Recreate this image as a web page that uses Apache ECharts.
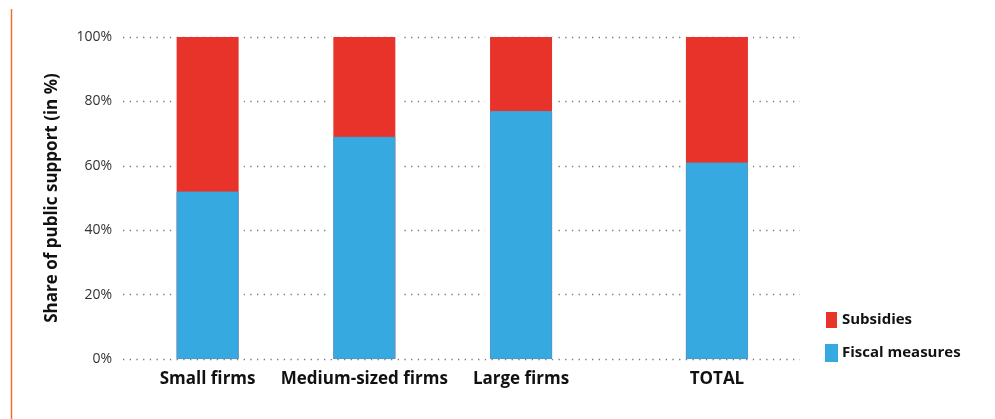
<!DOCTYPE html>
<html>
<head>
<meta charset="utf-8">
<script src="https://cdn.jsdelivr.net/npm/echarts@6/dist/echarts.min.js"></script>
<style>
html,body{margin:0;padding:0;background:#fff;}
#chart{width:995px;height:419px;}
</style>
</head>
<body>
<div id="chart"></div>
<script>
// ---- data ----
var categories = ['Small firms', 'Medium-sized firms', 'Large firms', 'TOTAL'];
var fiscalMeasures = [52, 69, 77, 61];
var subsidies = [48, 31, 23, 39];
var yTicks = [0, 20, 40, 60, 80, 100];

// ---- layout (slot positions along the x axis; TOTAL is set apart) ----
var slots = [1, 2, 3, 4.25];

var RED = '#E8332A', BLUE = '#36A9E1';
var FONT = '"Open Sans", Roboto, sans-serif';

function pairs(vals) { return vals.map(function (v, i) { return [slots[i], v]; }); }
// subsidies sit on top of fiscal measures: the red bar spans 0..(fiscal+subsidies), blue drawn over it
var totals = fiscalMeasures.map(function (v, i) { return v + subsidies[i]; });

var chart = echarts.init(document.getElementById('chart'));
chart.setOption({
  animation: false,
  backgroundColor: '#fff',
  textStyle: { fontFamily: FONT },
  graphic: [{
    type: 'line', silent: true,
    shape: { x1: 11.5, y1: 9, x2: 11.5, y2: 419 },
    style: { stroke: '#F07030', lineWidth: 1.5 }
  }],
  grid: { left: 123, right: 195, top: 37, bottom: 60 },
  legend: {
    orient: 'vertical', left: 820, top: 307,
    itemWidth: 11, itemHeight: 16, itemGap: 16,
    icon: 'rect',
    data: ['Subsidies', 'Fiscal measures'],
    textStyle: { fontFamily: FONT, fontSize: 15, fontWeight: 'bold', color: '#111' }
  },
  xAxis: [{
    type: 'value', min: 0.46, max: 4.78,
    axisLine: { show: false }, axisTick: { show: false }, splitLine: { show: false },
    axisLabel: {
      customValues: slots,
      formatter: function (v) {
        for (var i = 0; i < slots.length; i++) if (Math.abs(slots[i] - v) < 1e-6) return categories[i];
        return '';
      },
      fontFamily: FONT, fontSize: 17, fontWeight: 'bold', color: '#111', margin: 12
    }
  }, {
    type: 'value', min: 0.46, max: 4.78, show: false
  }],
  yAxis: {
    type: 'value', min: 0, max: 100, interval: 20,
    name: 'Share of public support (in %)',
    nameLocation: 'middle', nameGap: 62,
    nameTextStyle: { fontFamily: FONT, fontSize: 17, fontWeight: 'bold', color: '#111' },
    axisLine: { show: false }, axisTick: { show: false },
    axisLabel: {
      fontFamily: FONT, fontSize: 14, color: '#333', margin: 11,
      formatter: function (v) { return yTicks.indexOf(v) >= 0 ? v + '%' : ''; }
    },
    splitLine: { show: true, lineStyle: { color: '#777', width: 1.3, type: [1.3, 5.4] } }
  },
  series: [{
    name: 'halo', type: 'bar', xAxisIndex: 1, silent: true,
    barWidth: 72, data: pairs(totals),
    itemStyle: { color: '#fff' }, z: 1, legendHoverLink: false
  }, {
    name: 'Subsidies', type: 'bar', barWidth: 62, barGap: '-100%',
    data: pairs(totals), itemStyle: { color: RED }, z: 3
  }, {
    name: 'Fiscal measures', type: 'bar', barWidth: 62, barGap: '-100%',
    data: pairs(fiscalMeasures), itemStyle: { color: BLUE, borderColor: BLUE, borderWidth: 0.8 }, z: 4
  }]
});
</script>
</body>
</html>
